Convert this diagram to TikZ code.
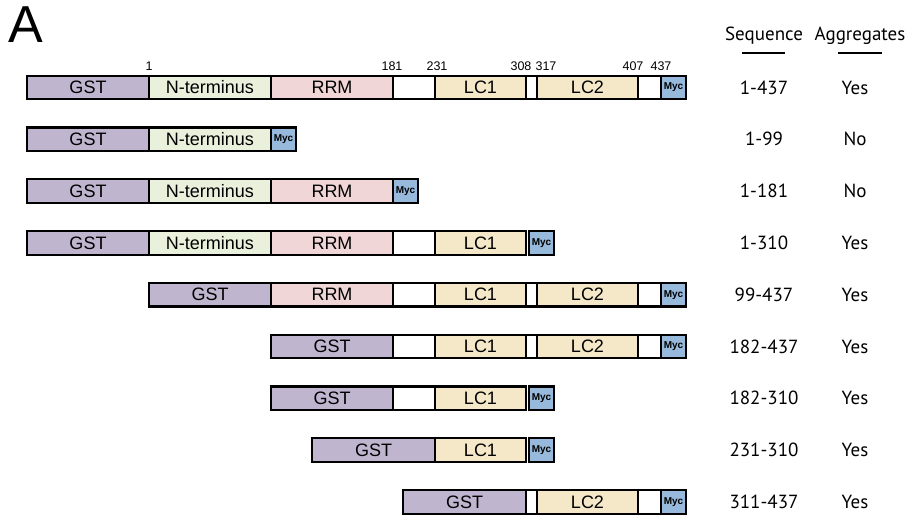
\documentclass[tikz,border=0pt]{standalone}
\usepackage{fontspec}
\setmainfont{Liberation Sans}
\newfontfamily\tabfont{PT Sans}
\definecolor{gstcol}{RGB}{192,181,207}
\definecolor{ntcol}{RGB}{233,240,219}
\definecolor{rrmcol}{RGB}{240,214,214}
\definecolor{lccol}{RGB}{245,232,200}
\definecolor{myccol}{RGB}{150,185,220}
\begin{document}
\begin{tikzpicture}[x=1pt,y=-1pt,
  seg/.style={draw, line width=2.2pt, minimum height=23.5pt, inner sep=0pt,
    font=\fontsize{18}{20}\selectfont},
  gst/.style={seg, fill=gstcol, minimum width=122pt},
  nter/.style={seg, fill=ntcol, minimum width=122pt},
  rrm/.style={seg, fill=rrmcol, minimum width=122pt},
  lcone/.style={seg, fill=lccol, minimum width=91pt},
  lctwo/.style={seg, fill=lccol, minimum width=101pt},
  blank/.style={seg, fill=white},
  myc/.style={seg, fill=myccol, minimum width=25pt,
    font=\fontsize{10}{10}\selectfont\bfseries},
  resnum/.style={inner sep=0pt, font=\fontsize{12.5}{12.5}\selectfont},
  tab/.style={inner sep=0pt, font=\tabfont\fontsize{19}{21}\selectfont}]
\useasboundingbox (0,0) rectangle (908,519);
\node[inner sep=0pt, font=\fontsize{52}{52}\selectfont] (panel) at (26,25) {A};

% column heads
\node[tab, anchor=base] (seqhead) at (764,41) {Sequence};
\node[tab, anchor=base] (agghead) at (860,41) {Aggregates};
\draw[line width=2.2pt] (742,53) -- (785,53);
\draw[line width=2.2pt] (838,53) -- (882,53);

% residue numbers
\node[resnum] (p1) at (149,66) {1};
\node[resnum] (p181) at (392,66) {181};
\node[resnum] (p231) at (437,66) {231};
\node[resnum] (p308) at (521,66) {308};
\node[resnum] (p317) at (546,66) {317};
\node[resnum] (p407) at (633,66) {407};
\node[resnum] (p437) at (661,66) {437};

% 1-437
\node[gst] (agst) at (88,87.5) {GST};
\node[nter] (ant) at (210,87.5) {N-terminus};
\node[rrm] (arrm) at (332,87.5) {RRM};
\node[blank, minimum width=42pt] (ab1) at (414,87.5) {};
\node[lcone] (alca) at (480.5,87.5) {LC1};
\node[blank, minimum width=11pt] (ab2) at (531.5,87.5) {};
\node[lctwo] (alcb) at (587.5,87.5) {LC2};
\node[blank, minimum width=23pt] (ab3) at (649.5,87.5) {};
\node[myc] (amyc) at (673.5,87.5) {Myc};
\node[tab] (aseq) at (764,87.5) {1-437};
\node[tab] (aagg) at (855,87.5) {Yes};

% 1-99
\node[gst] (bgst) at (88,139.3) {GST};
\node[nter] (bnt) at (210,139.3) {N-terminus};
\node[myc] (bmyc) at (283.5,139.3) {Myc};
\node[tab] (bseq) at (764,139.3) {1-99};
\node[tab] (bagg) at (855,139.3) {No};

% 1-181
\node[gst] (cgst) at (88,191.1) {GST};
\node[nter] (cnt) at (210,191.1) {N-terminus};
\node[rrm] (crrm) at (332,191.1) {RRM};
\node[myc] (cmyc) at (405.5,191.1) {Myc};
\node[tab] (cseq) at (764,191.1) {1-181};
\node[tab] (cagg) at (855,191.1) {No};

% 1-310
\node[gst] (dgst) at (88,242.9) {GST};
\node[nter] (dnt) at (210,242.9) {N-terminus};
\node[rrm] (drrm) at (332,242.9) {RRM};
\node[blank, minimum width=42pt] (db1) at (414,242.9) {};
\node[lcone] (dlca) at (480.5,242.9) {LC1};
\node[myc] (dmyc) at (541.5,242.9) {Myc};
\node[tab] (dseq) at (764,242.9) {1-310};
\node[tab] (dagg) at (855,242.9) {Yes};

% 99-437
\node[gst] (egst) at (210,294.7) {GST};
\node[rrm] (errm) at (332,294.7) {RRM};
\node[blank, minimum width=42pt] (eb1) at (414,294.7) {};
\node[lcone] (elca) at (480.5,294.7) {LC1};
\node[blank, minimum width=11pt] (eb2) at (531.5,294.7) {};
\node[lctwo] (elcb) at (587.5,294.7) {LC2};
\node[blank, minimum width=23pt] (eb3) at (649.5,294.7) {};
\node[myc] (emyc) at (673.5,294.7) {Myc};
\node[tab] (eseq) at (764,294.7) {99-437};
\node[tab] (eagg) at (855,294.7) {Yes};

% 182-437
\node[gst] (fgst) at (332,346.5) {GST};
\node[blank, minimum width=42pt] (fb1) at (414,346.5) {};
\node[lcone] (flca) at (480.5,346.5) {LC1};
\node[blank, minimum width=11pt] (fb2) at (531.5,346.5) {};
\node[lctwo] (flcb) at (587.5,346.5) {LC2};
\node[blank, minimum width=23pt] (fb3) at (649.5,346.5) {};
\node[myc] (fmyc) at (673.5,346.5) {Myc};
\node[tab] (fseq) at (764,346.5) {182-437};
\node[tab] (fagg) at (855,346.5) {Yes};

% 182-310
\node[gst] (ggst) at (332,398.3) {GST};
\node[blank, minimum width=42pt] (gb1) at (414,398.3) {};
\node[lcone] (glca) at (480.5,398.3) {LC1};
\node[myc] (gmyc) at (541.5,398.3) {Myc};
\node[tab] (gseq) at (764,398.3) {182-310};
\node[tab] (gagg) at (855,398.3) {Yes};

% 231-310
\node[gst, minimum width=123pt] (hgst) at (373.5,450.1) {GST};
\node[lcone] (hlca) at (480.5,450.1) {LC1};
\node[myc] (hmyc) at (541.5,450.1) {Myc};
\node[tab] (hseq) at (764,450.1) {231-310};
\node[tab] (hagg) at (855,450.1) {Yes};

% 311-437
\node[gst, minimum width=123pt] (igst) at (464.5,501.9) {GST};
\node[blank, minimum width=11pt] (ib2) at (531.5,501.9) {};
\node[lctwo] (ilcb) at (587.5,501.9) {LC2};
\node[blank, minimum width=23pt] (ib3) at (649.5,501.9) {};
\node[myc] (imyc) at (673.5,501.9) {Myc};
\node[tab] (iseq) at (764,501.9) {311-437};
\node[tab] (iagg) at (855,501.9) {Yes};
\end{tikzpicture}
\end{document}
